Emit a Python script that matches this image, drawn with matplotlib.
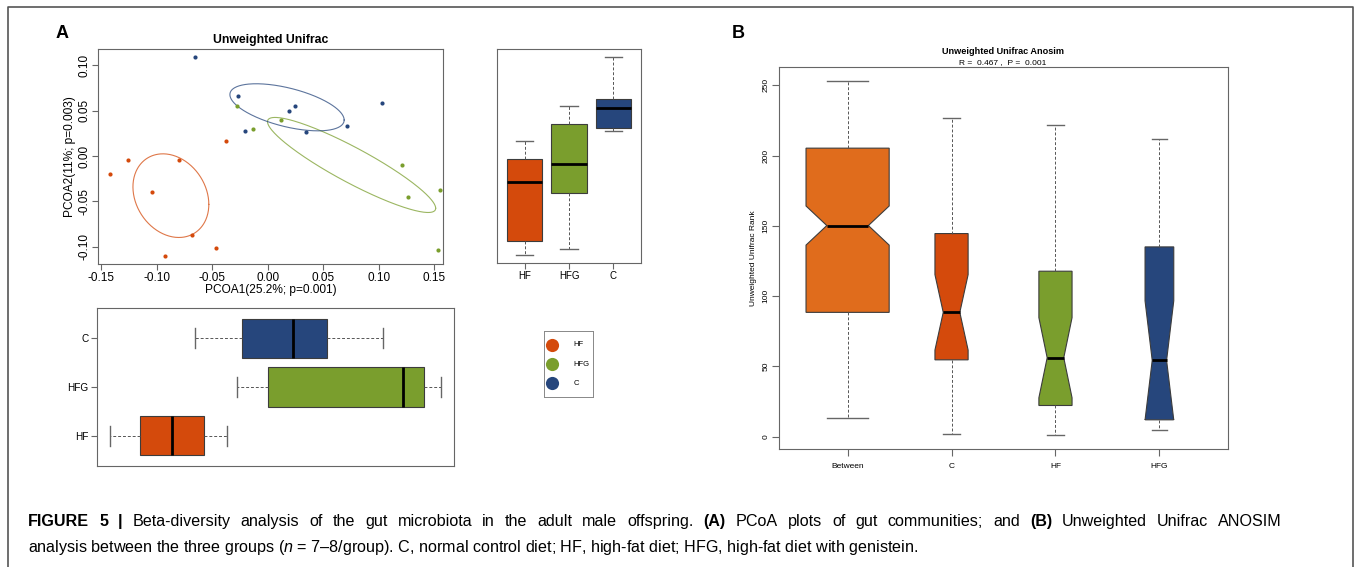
import numpy as np
import matplotlib
matplotlib.use("Agg")
import matplotlib.pyplot as plt
from matplotlib.lines import Line2D

plt.rcParams['font.family'] = ['Liberation Sans', 'DejaVu Sans']
plt.rcParams['mathtext.fontset'] = 'custom'
plt.rcParams['mathtext.rm'] = 'Liberation Sans'
plt.rcParams['mathtext.bf'] = 'Liberation Sans:bold'
plt.rcParams['mathtext.it'] = 'Liberation Sans:italic'

# ---- data ----
groups = ["HF", "HFG", "C"]
group_colors = ["#D44A0C", "#7A9E2D", "#26467C"]

hf_pc1 = [-0.0372, -0.1263, -0.1419, -0.0798, -0.1041, -0.0681, -0.0468, -0.0924]
hf_pc2 = [0.0166, -0.0044, -0.0195, -0.0044, -0.0401, -0.0877, -0.1017, -0.1105]
hfg_pc1 = [-0.0276, -0.0129, 0.0120, 0.1209, 0.1266, 0.1551, 0.1539]
hfg_pc2 = [0.0549, 0.0302, 0.0398, -0.0096, -0.0457, -0.0379, -0.1035]
c_pc1 = [-0.0654, -0.0267, 0.0195, 0.0246, -0.0207, 0.0342, 0.0717, 0.1032]
c_pc2 = [0.1094, 0.0663, 0.0501, 0.0552, 0.0276, 0.0269, 0.0331, 0.0589]

# ellipses: centre, half extents, correlation (order HF, HFG, C)
ell_cx = [-0.0873, 0.0756, 0.0174]
ell_cy = [-0.0438, -0.0099, 0.0538]
ell_rx = [0.0342, 0.0758, 0.0515]
ell_ry = [0.0462, 0.0525, 0.0260]
ell_rho = [-0.21, -0.91, -0.54]

xticks_a = [-0.15, -0.10, -0.05, 0.00, 0.05, 0.10, 0.15]
yticks_a = [-0.10, -0.05, 0.00, 0.05, 0.10]

# anosim panel
anosim_labels = ["Between", "C", "HF", "HFG"]
anosim_colors = ["#E06C1C", "#D44A0C", "#7A9E2D", "#26467C"]
anosim_n = [176, 28, 28, 21]
anosim_med = [150.2, 88.4, 56.1, 54.2]
anosim_q1 = [88.4, 54.6, 22.1, 11.9]
anosim_q3 = [205.3, 144.5, 117.7, 135.0]
anosim_lo = [13.0, 2.1, 1.2, 5.0]
anosim_hi = [253.0, 226.7, 221.8, 212.0]
anosim_yticks = [0, 50, 100, 150, 200, 250]

caption_words = ["FIGURE", "5", "|", "Beta-diversity", "analysis", "of", "the", "gut",
                 "microbiota", "in", "the", "adult", "male", "offspring.", "(A)", "PCoA",
                 "plots", "of", "gut", "communities;", "and", "(B)", "Unweighted",
                 "Unifrac", "ANOSIM"]
caption_bold = ["FIGURE", "5", "|", "(A)", "(B)"]
caption_line2 = (r"analysis between the three groups ($\it{n}$ = 7–8/group). C, normal control diet; "
                 r"HF, high-fat diet; HFG, high-fat diet with genistein.")

pc1 = [hf_pc1, hfg_pc1, c_pc1]
pc2 = [hf_pc2, hfg_pc2, c_pc2]


def tukey_stats(v):
    x = np.sort(np.asarray(v, float))
    n = len(x)
    n4 = np.floor((n + 3) / 2) / 2
    d = np.array([1, n4, (n + 1) / 2, n + 1 - n4, n])
    f = 0.5 * (x[np.floor(d).astype(int) - 1] + x[np.ceil(d).astype(int) - 1])
    iqr = f[3] - f[1]
    lo = x[x >= f[1] - 1.5 * iqr].min()
    hi = x[x <= f[3] + 1.5 * iqr].max()
    return dict(med=f[2], q1=f[1], q3=f[3], whislo=lo, whishi=hi, fliers=[])


def padded(vals, frac=0.04):
    lo, hi = min(vals), max(vals)
    e = (hi - lo) * frac
    return lo - e, hi + e


W, H = 1357, 567
fig = plt.figure(figsize=(W / 100, H / 100), dpi=100)


def axes_px(l, t, r, b):
    return fig.add_axes([l / W, 1 - b / H, (r - l) / W, (b - t) / H])


frame_col = "#666666"
box_kw = dict(patch_artist=True,
              boxprops=dict(edgecolor="#3c3c3c", linewidth=0.8),
              whiskerprops=dict(color="#555555", linestyle=(0, (3, 2)), linewidth=0.7),
              capprops=dict(color="#666666", linewidth=1.0),
              medianprops=dict(color="black", linewidth=2.0))


def style_frame(ax):
    for s in ax.spines.values():
        s.set_color(frame_col)
        s.set_linewidth(0.8)
    ax.tick_params(direction="out", length=4, color=frame_col, width=0.8)


all_x = [v for g in pc1 for v in g]
all_y = [v for g in pc2 for v in g]
group_range = (0.38, 3.62)

# ---- PCoA scatter ----
ax = axes_px(98, 49, 443, 264)
for i, g in enumerate(groups):
    ax.scatter(pc1[i], pc2[i], s=9, color=group_colors[i], linewidths=0, zorder=3)
    t = np.linspace(0, 2 * np.pi, 300)
    d = np.arccos(ell_rho[i])
    ax.plot(ell_cx[i] + ell_rx[i] * np.cos(t), ell_cy[i] + ell_ry[i] * np.cos(t - d),
            color=group_colors[i], linewidth=0.8, alpha=0.75)
ax.set_xlim(-0.153, 0.158)
ax.set_ylim(*padded(all_y))
ax.set_xticks(xticks_a)
ax.set_xticklabels(["%.2f" % v for v in xticks_a])
ax.set_yticks(yticks_a)
ax.set_yticklabels(["%.2f" % v for v in yticks_a], rotation=90, va="center")
style_frame(ax)
ax.tick_params(labelsize=8.5, pad=1.5)
ax.set_xlabel("PCOA1(25.2%; p=0.001)", fontsize=8.6, labelpad=0)
ax.set_ylabel("PCOA2(11%; p=0.003)", fontsize=8.6, labelpad=2)
ax.set_title("Unweighted Unifrac", fontsize=8.8, fontweight="bold", pad=4)

# ---- PC2 boxes (right) ----
ax2 = axes_px(497, 49, 641, 263)
bp = ax2.bxp([tukey_stats(v) for v in pc2], positions=[1, 2, 3], widths=0.8, **box_kw)
for patch, c in zip(bp["boxes"], group_colors):
    patch.set_facecolor(c)
ax2.set_xlim(*group_range)
ax2.set_ylim(*padded(all_y))
ax2.set_xticks([1, 2, 3])
ax2.set_xticklabels(groups)
ax2.set_yticks([])
style_frame(ax2)
ax2.tick_params(labelsize=7, pad=1.5)

# ---- PC1 boxes (bottom) ----
ax3 = axes_px(97, 308, 454, 466)
bp = ax3.bxp([tukey_stats(v) for v in pc1], positions=[1, 2, 3], widths=0.8,
             orientation="horizontal", **box_kw)
for patch, c in zip(bp["boxes"], group_colors):
    patch.set_facecolor(c)
ax3.set_ylim(*group_range)
ax3.set_xlim(*padded(all_x))
ax3.set_yticks([1, 2, 3])
ax3.set_yticklabels(groups)
ax3.set_xticks([])
style_frame(ax3)
ax3.tick_params(labelsize=7.2, pad=2)

# ---- legend ----
axl = axes_px(544, 331, 593, 397)
for i, g in enumerate(groups):
    axl.scatter([0.16], [2 - i], s=90, color=group_colors[i], linewidths=0)
    axl.text(0.6, 2 - i, g, fontsize=5.5, va="center", ha="left")
axl.set_xlim(0, 1)
axl.set_ylim(-0.7, 2.72)
axl.set_xticks([])
axl.set_yticks([])
for s in axl.spines.values():
    s.set_color("#888888")
    s.set_linewidth(0.7)

# ---- ANOSIM ----
axb = axes_px(779, 67, 1228, 449)
stats = []
for i in range(len(anosim_labels)):
    half = 1.58 * (anosim_q3[i] - anosim_q1[i]) / np.sqrt(anosim_n[i])
    stats.append(dict(med=anosim_med[i], q1=anosim_q1[i], q3=anosim_q3[i],
                      whislo=anosim_lo[i], whishi=anosim_hi[i], fliers=[],
                      cilo=anosim_med[i] - half, cihi=anosim_med[i] + half))
widths = 0.8 * np.sqrt(anosim_n) / np.sqrt(max(anosim_n))
bp = axb.bxp(stats, positions=[1, 2, 3, 4], widths=widths, shownotches=True, **box_kw)
for patch, c in zip(bp["boxes"], anosim_colors):
    patch.set_facecolor(c)
axb.set_xlim(0.34, 4.66)
axb.set_ylim(*padded([min(anosim_lo), max(anosim_hi)]))
axb.set_xticks([1, 2, 3, 4])
axb.set_xticklabels(anosim_labels)
axb.set_yticks(anosim_yticks)
axb.set_yticklabels([str(v) for v in anosim_yticks], rotation=90, va="center")
style_frame(axb)
axb.tick_params(labelsize=6, pad=2, length=5)
axb.tick_params(axis="x", pad=5)
axb.set_ylabel("Unweighted Unifrac Rank", fontsize=6, labelpad=4)
fig.text(1003 / W, 1 - 51.5 / H, "Unweighted Unifrac Anosim", fontsize=6.6,
         fontweight="bold", ha="center", va="center")
fig.text(1003 / W, 1 - 62.5 / H, "R =  0.467 ,  P =  0.001", fontsize=6,
         ha="center", va="center")

# ---- panel letters ----
fig.text(62 / W, 1 - 33 / H, "A", fontsize=13, fontweight="bold", ha="center", va="center")
fig.text(738 / W, 1 - 34 / H, "B", fontsize=13, fontweight="bold", ha="center", va="center")

# ---- caption (first line justified between x=28 and x=1282) ----
cap_fs = 11.6
renderer = fig.canvas.get_renderer()
words = [fig.text(0, 1 - 526 / H, w, fontsize=cap_fs, va="baseline", ha="left",
                  fontweight="bold" if w in caption_bold else "normal")
         for w in caption_words]
wlen = [t.get_window_extent(renderer).width for t in words]
gap = (1282 - 28 - sum(wlen)) / (len(words) - 1)
x = 28.0
for t, wl in zip(words, wlen):
    t.set_x(x / W)
    x += wl + gap
fig.text(28 / W, 1 - 552 / H, caption_line2, fontsize=cap_fs, va="baseline", ha="left")

# ---- outer frame ----
fx = [8 / W, 8 / W, 1353 / W, 1353 / W]
fy = [0, 1 - 7 / H, 1 - 7 / H, 0]
fig.add_artist(Line2D(fx, fy, transform=fig.transFigure, color="#555555", linewidth=1.2))

fig.savefig("out.png", dpi=100)
